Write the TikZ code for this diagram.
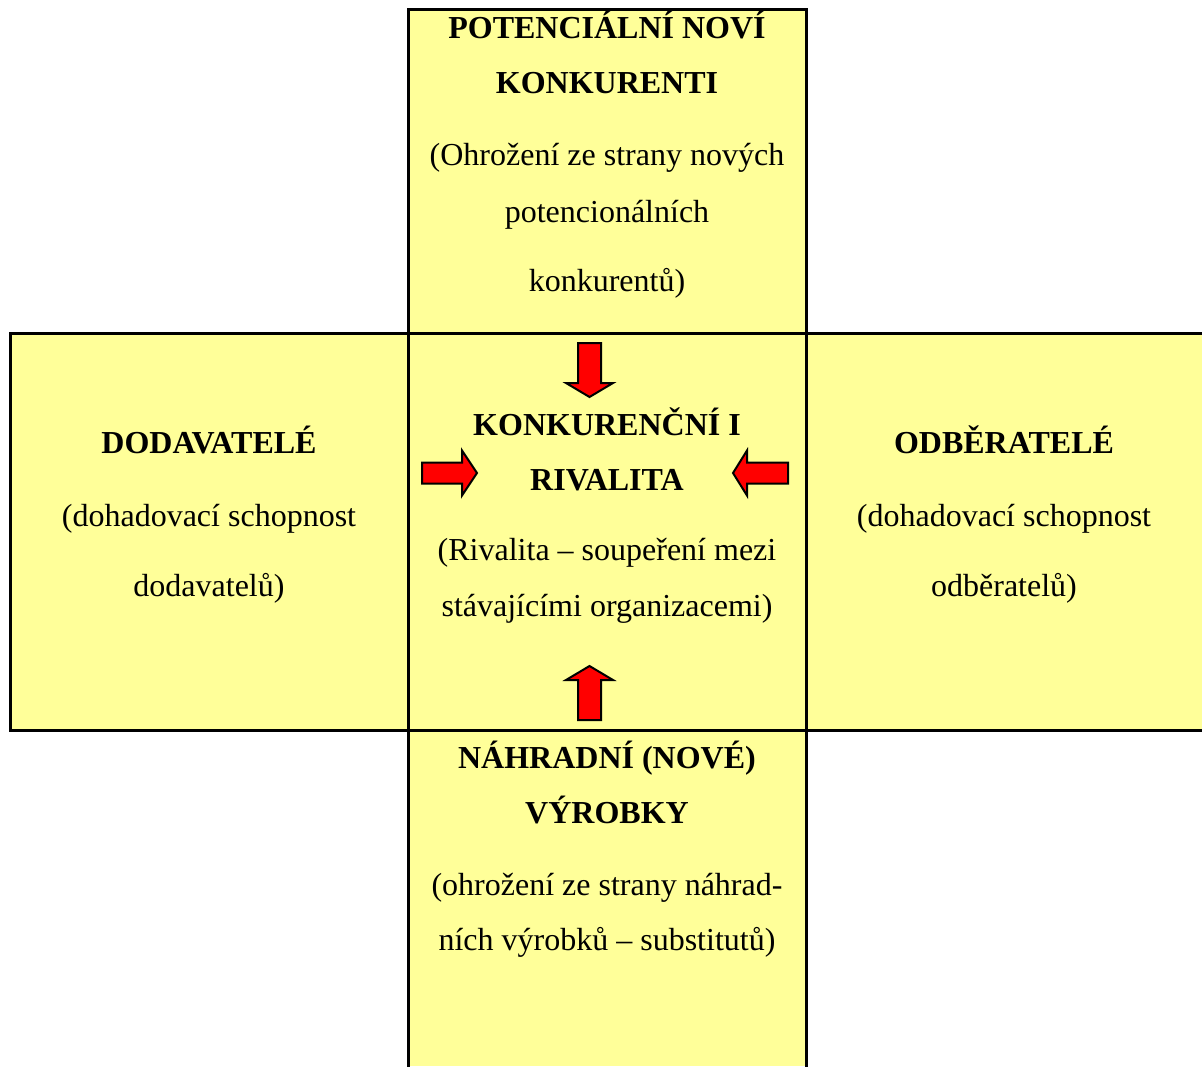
\documentclass[tikz,border=0pt]{standalone}
\usepackage{fontspec}
\setmainfont{Liberation Serif}
\definecolor{boxyellow}{HTML}{FFFF99}
\begin{document}
\begin{tikzpicture}[x=1pt,y=-1pt,
  panel/.style={fill=boxyellow},
  edge/.style={line width=3pt, line cap=rect},
  lbl/.style={anchor=base, inner sep=0pt, font=\fontsize{32}{38}\selectfont},
  hd/.style={anchor=base, inner sep=0pt, font=\fontsize{32}{38}\selectfont\bfseries},
  blockarrow/.style={fill=red, draw=black, line width=2pt, line join=miter}]
\useasboundingbox (0,0) rectangle (1202,1066);
% panels
\fill[panel] (408,9) rectangle (806,333);
\fill[panel] (10,333) rectangle (408,730);
\fill[panel] (408,333) rectangle (806,730);
\fill[panel] (806,333) rectangle (1202,730);
\fill[panel] (408,730) rectangle (806,1066);
% borders
\draw[edge] (408,1070) -- (408,9) -- (806,9) -- (806,1070);
\draw[edge] (1205,333) -- (10,333) -- (10,730) -- (1205,730);
% arrows
\draw[blockarrow] (578,343) -- (601,343) -- (601,383) -- (613,383) -- (589.5,397) -- (566,383) -- (578,383) -- cycle;
\draw[blockarrow] (578,720) -- (601,720) -- (601,680) -- (613,680) -- (589.5,666) -- (566,680) -- (578,680) -- cycle;
\draw[blockarrow] (422,462.5) -- (462,462.5) -- (462,450.5) -- (477,473) -- (462,495.5) -- (462,483.5) -- (422,483.5) -- cycle;
\draw[blockarrow] (788,462.5) -- (747,462.5) -- (747,450.5) -- (733,473) -- (747,495.5) -- (747,483.5) -- (788,483.5) -- cycle;
% top
\node[hd]  (t1) at (607,38)  {POTENCIÁLNÍ NOVÍ};
\node[hd]  (t2) at (607,93)  {KONKURENTI};
\node[lbl] (t3) at (607,165) {(Ohrožení ze strany nových};
\node[lbl] (t4) at (607,222) {potencionálních};
\node[lbl] (t5) at (607,291) {konkurentů)};
% center
\node[hd]  (c1) at (607,435) {KONKURENČNÍ I};
\node[hd]  (c2) at (607,490) {RIVALITA};
\node[lbl] (c3) at (607,560) {(Rivalita – soupeření mezi};
\node[lbl] (c4) at (607,616) {stávajícími organizacemi)};
% left
\node[hd]  (l1) at (209,453) {DODAVATELÉ};
\node[lbl] (l2) at (209,526) {(dohadovací schopnost};
\node[lbl] (l3) at (209,596) {dodavatelů)};
% right
\node[hd]  (r1) at (1004,453) {ODBĚRATELÉ};
\node[lbl] (r2) at (1004,526) {(dohadovací schopnost};
\node[lbl] (r3) at (1004,596) {odběratelů)};
% bottom
\node[hd]  (b1) at (607,768) {NÁHRADNÍ (NOVÉ)};
\node[hd]  (b2) at (607,823) {VÝROBKY};
\node[lbl] (b3) at (607,895) {(ohrožení ze strany náhrad-};
\node[lbl] (b4) at (607,950) {ních výrobků – substitutů)};
\end{tikzpicture}
\end{document}
